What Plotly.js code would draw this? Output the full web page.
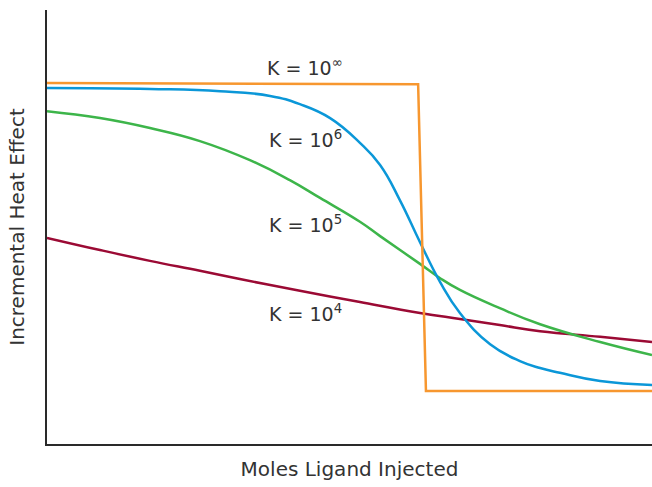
<!DOCTYPE html>
<html>
<head>
<meta charset="utf-8">
<script src="https://cdn.plot.ly/plotly-3.0.1.min.js"></script>
<style>html,body{margin:0;padding:0;background:#fff;}#chart{width:652px;height:487px;}</style>
</head>
<body>
<div id="chart"></div>
<script>
// Molar ratio (x) and incremental heat (y, arbitrary units)
var orangeX = [0, 0.995, 1.016, 1.622];
var orangeY = [0.832, 0.829, 0.122, 0.122];

var blueX = [0, 0.276, 0.464, 0.598, 0.678, 0.759, 0.839, 0.893, 0.946, 1.000, 1.054, 1.107, 1.188, 1.268, 1.322, 1.375, 1.483, 1.622];
var blueY = [0.820, 0.818, 0.813, 0.802, 0.783, 0.751, 0.694, 0.643, 0.562, 0.465, 0.373, 0.302, 0.230, 0.191, 0.175, 0.164, 0.145, 0.136];

var greenX = [0, 0.142, 0.276, 0.410, 0.544, 0.651, 0.732, 0.839, 0.893, 1.000, 1.054, 1.107, 1.214, 1.322, 1.483, 1.622];
var greenY = [0.767, 0.751, 0.728, 0.698, 0.654, 0.608, 0.567, 0.512, 0.479, 0.415, 0.382, 0.355, 0.313, 0.276, 0.235, 0.205];

var redX = [0, 0.142, 0.276, 0.410, 0.517, 0.678, 0.839, 1.000, 1.107, 1.214, 1.322, 1.483, 1.622];
var redY = [0.475, 0.447, 0.422, 0.399, 0.380, 0.353, 0.327, 0.302, 0.288, 0.274, 0.260, 0.247, 0.235];

var labels = ["K = 10<sup>∞</sup>", "K = 10<sup>6</sup>", "K = 10<sup>5</sup>", "K = 10<sup>4</sup>"];
var labelX = [0.692, 0.692, 0.692, 0.692];
var labelY = [0.868, 0.703, 0.508, 0.301];

var fontFam = "DejaVu Sans, sans-serif";

var traces = [
  {x: redX, y: redY, mode: 'lines', line: {color: '#9b0a34', width: 2.5, shape: 'spline', smoothing: 1.3}},
  {x: greenX, y: greenY, mode: 'lines', line: {color: '#3db54a', width: 2.5, shape: 'spline', smoothing: 1.3}},
  {x: blueX, y: blueY, mode: 'lines', line: {color: '#0b97d8', width: 2.5, shape: 'spline', smoothing: 1.3}},
  {x: orangeX, y: orangeY, mode: 'lines', line: {color: '#f7972f', width: 2.5}}
];

var annotations = labels.map(function(t, i) {
  return {x: labelX[i], y: labelY[i], xref: 'x', yref: 'y', text: t, showarrow: false,
          font: {family: fontFam, size: 19, color: '#333333'}, xanchor: 'center', yanchor: 'middle'};
});

var layout = {
  width: 652, height: 487,
  margin: {l: 47, r: 0, t: 10, b: 43},
  paper_bgcolor: '#ffffff', plot_bgcolor: '#ffffff',
  showlegend: false,
  font: {family: fontFam, color: '#333333'},
  xaxis: {range: [0, 1.622], showline: true, linecolor: '#2a2a2a', linewidth: 2, showgrid: false, zeroline: false,
          showticklabels: false, ticks: '', fixedrange: true,
          title: {text: 'Moles Ligand Injected', font: {family: fontFam, size: 20, color: '#333333'}, standoff: 17}},
  yaxis: {range: [0, 1], showline: true, linecolor: '#2a2a2a', linewidth: 2, showgrid: false, zeroline: false,
          showticklabels: false, ticks: '', fixedrange: true,
          title: {text: 'Incremental Heat Effect', font: {family: fontFam, size: 20, color: '#333333'}, standoff: 15}},
  annotations: annotations
};

Plotly.newPlot('chart', traces, layout, {displayModeBar: false, staticPlot: true});
</script>
</body>
</html>
